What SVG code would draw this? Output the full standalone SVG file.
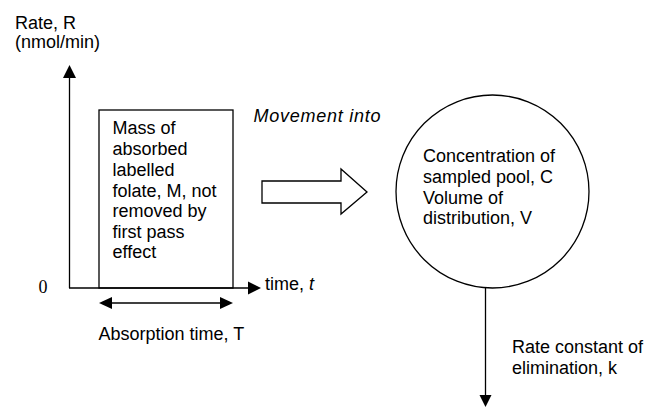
<svg xmlns="http://www.w3.org/2000/svg" width="647" height="419" viewBox="0 0 647 419">
<style>
.t{font-family:"Liberation Sans",Arial,sans-serif;font-size:18px;fill:#000}
.s{fill:none;stroke:#000;stroke-width:1.3}
.h{fill:#000;stroke:none}
</style>
<rect width="647" height="419" fill="#fff"/>
<g id="axis-labels">
<text class="t" x="15" y="28.5">Rate, R</text>
<text class="t" x="15" y="48">(nmol/min)</text>
<text x="38.5" y="293" style="font-family:'Liberation Serif','Times New Roman',serif;font-size:18px">0</text>
<text class="t" x="265" y="290">time, <tspan font-style="italic">t</tspan></text>
<text class="t" x="98.5" y="340">Absorption time, T</text>
</g>
<g id="absorbed-mass">
<rect class="s" x="99" y="110" width="134" height="178"/>
<text class="t" x="112.5"><tspan x="112.5" y="133.5">Mass of</tspan><tspan x="112.5" y="154.5">absorbed</tspan><tspan x="112.5" y="175.5">labelled</tspan><tspan x="112.5" y="196.5">folate, M, not</tspan><tspan x="112.5" y="217">removed by</tspan><tspan x="112.5" y="237.5">first pass</tspan><tspan x="112.5" y="258">effect</tspan></text>
</g>
<g id="sampled-pool">
<circle class="s" cx="492.5" cy="191.5" r="96.5"/>
<text class="t"><tspan x="423" y="162">Concentration of</tspan><tspan x="423" y="182.5">sampled pool, C</tspan><tspan x="423" y="203.5">Volume of</tspan><tspan x="423" y="224">distribution, V</tspan></text>
</g>
<g id="movement">
<polygon class="s" points="262,181 341,181 341,169 367,192 341,214 341,203 262,203"/>
<text class="t" x="253.5" y="122" font-style="italic" textLength="127" lengthAdjust="spacing">Movement into</text>
</g>
<g id="connectors">
<line class="s" x1="69.5" y1="288" x2="69.5" y2="77"/>
<polygon class="h" points="63,78 76,78 69.5,65"/>
<line class="s" x1="69" y1="288" x2="250" y2="288"/>
<polygon class="h" points="248,281.5 261,288 248,294.5"/>
<line class="s" x1="108" y1="303" x2="224" y2="303"/>
<polygon class="h" points="99,303 112,297 112,309"/>
<polygon class="h" points="233,303 220,297 220,309"/>
<line class="s" x1="485.5" y1="288" x2="485.5" y2="397"/>
<polygon class="h" points="479.5,395 491.5,395 485.5,407"/>
</g>
<g id="elimination-label">
<text class="t"><tspan x="512" y="353">Rate constant of</tspan><tspan x="512" y="373.5">elimination, k</tspan></text>
</g>
</svg>
